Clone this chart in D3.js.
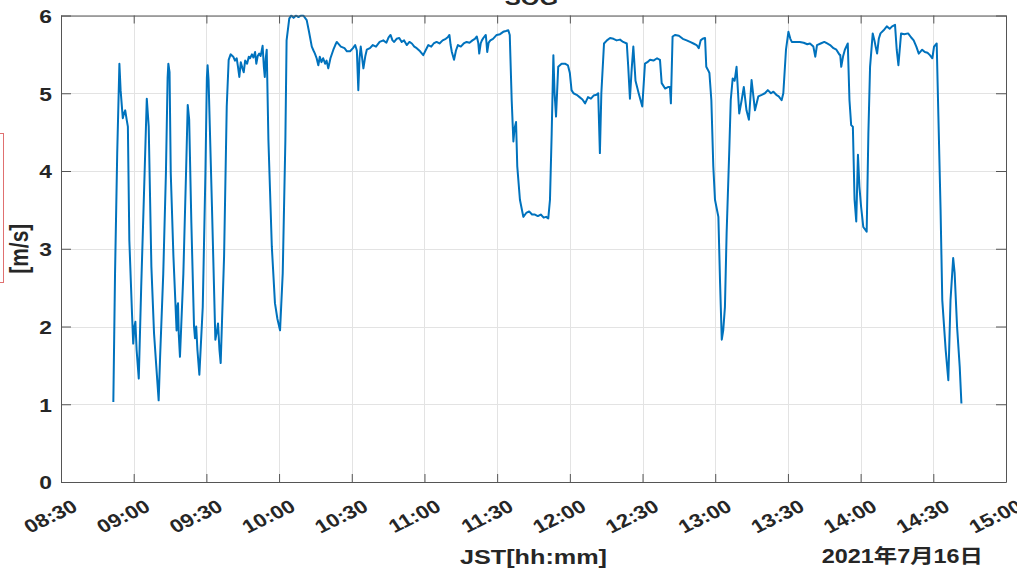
<!DOCTYPE html>
<html>
<head>
<meta charset="utf-8">
<script src="https://cdn.jsdelivr.net/npm/d3@7"></script>
<style>
  html, body { margin: 0; padding: 0; background: #fff; }
  svg { display: block; }
  text { font-family: "Liberation Sans", Arial, sans-serif; font-weight: bold; fill: #262626; }
</style>
</head>
<body>
<svg id="chart" width="1017" height="572"></svg>
<script>
// ---- data (minutes after 08:30 JST, SOG in m/s) ----
const startTime = "2021-07-16T08:30:00";
const endTime = "2021-07-16T15:00:00";
const tMin = [
  21.6,22.3,23.2,24.1,24.6,25.5,26.0,26.5,27.1,27.6,28.2,29.3,29.8,30.3,30.7,31.2,32.1,33.1,34.5,35.4,
  36.2,37.3,38.4,39.3,40.3,40.9,42.2,43.3,44.0,44.3,44.8,45.3,46.4,47.7,48.0,48.3,48.6,49.1,50.5,51.6,
  52.3,52.9,53.8,54.9,55.3,55.8,56.3,57.1,58.5,59.6,60.2,60.5,60.9,62.3,63.7,64.4,64.8,65.4,65.9,67.3,
  68.4,69.2,70.0,71.1,71.8,72.5,73.0,73.6,74.2,74.8,75.4,76.0,76.8,77.5,78.0,78.8,79.4,80.1,80.6,81.2,
  81.8,82.4,83.2,83.7,84.1,84.5,84.9,85.6,87.0,88.3,89.3,90.4,91.5,92.6,93.1,94.2,95.0,96.0,97.0,98.0,
  99.0,100.0,101.4,102.3,103.5,104.2,104.8,105.5,106.2,106.8,107.5,108.2,109.0,109.6,110.3,111.2,112.4,113.2,113.8,115.5,
  117.0,118.0,119.3,120.5,121.4,122.1,122.7,123.2,123.7,124.8,125.6,126.2,127.5,128.7,130.0,131.5,133.0,134.3,135.2,136.0,
  136.8,137.5,138.5,139.6,140.6,141.6,142.7,143.8,144.8,145.8,146.8,148.2,149.5,150.6,151.6,152.8,153.8,155.0,156.2,157.5,
  158.8,159.6,160.3,160.8,161.3,162.2,163.0,163.8,165.0,166.2,167.4,168.6,169.8,170.8,171.6,172.2,172.6,173.2,173.7,174.5,
  175.3,175.6,175.9,176.5,177.2,178.3,179.8,181.2,182.5,183.6,184.6,185.2,186.0,186.7,187.2,187.8,188.3,189.4,190.8,192.0,
  193.2,194.4,195.6,196.8,198.0,199.2,200.2,201.1,201.8,202.5,203.2,203.7,204.3,205.2,206.6,208.0,209.2,210.0,210.7,211.5,
  212.8,214.0,215.2,216.3,217.5,218.7,219.8,221.0,221.7,222.4,223.0,224.1,225.3,226.6,228.0,229.3,230.7,232.0,233.5,234.1,
  234.8,235.5,236.2,237.1,238.4,239.9,241.0,242.0,243.1,244.5,246.0,247.2,247.9,249.3,250.5,251.3,251.7,252.4,253.5,255.0,
  256.6,258.2,259.6,261.0,262.3,263.2,264.0,264.8,265.8,266.3,267.0,267.6,268.4,269.2,269.9,271.3,272.0,272.7,273.3,274.0,
  274.7,275.8,276.4,277.2,278.0,278.8,279.9,280.9,281.8,282.9,283.9,285.0,286.4,287.8,289.2,290.5,291.7,293.0,294.0,295.2,
  296.2,297.4,298.1,299.2,300.2,301.0,301.6,303.2,304.9,306.5,308.0,309.1,310.5,311.3,312.0,313.5,315.0,316.2,317.4,318.8,
  320.0,321.2,321.6,322.0,322.8,323.5,324.7,325.4,326.1,326.8,327.5,328.2,328.9,329.5,330.2,331.1,332.5,333.2,333.9,335.0,
  335.7,336.2,336.8,337.5,338.2,339.5,340.8,342.0,343.0,344.2,344.9,345.6,346.7,348.0,349.6,350.8,351.9,353.0,354.0,355.4,
  356.5,357.6,358.6,359.6,360.3,361.4,362.1,363.0,363.7,365.1,366.2,367.1,368.2,368.8,369.8,370.9,371.6
];
const sog = [
  1.03,2.68,4.23,5.38,5.04,4.68,4.74,4.78,4.66,4.57,3.11,2.17,1.78,2.00,2.06,1.70,1.33,2.51,3.97,4.93,
  4.57,2.77,1.91,1.50,1.05,1.61,2.68,3.97,5.20,5.38,5.27,3.97,2.90,1.95,2.25,2.30,1.90,1.61,2.68,3.97,
  4.85,4.66,3.33,2.00,1.85,2.00,1.70,1.38,2.25,3.97,5.20,5.36,5.17,3.54,1.83,1.95,2.04,1.70,1.53,2.90,
  4.83,5.43,5.50,5.47,5.42,5.45,5.35,5.21,5.40,5.33,5.27,5.42,5.38,5.47,5.45,5.50,5.46,5.53,5.38,5.48,
  5.51,5.48,5.61,5.35,5.21,5.45,5.56,4.40,3.03,2.30,2.10,1.95,2.68,4.40,5.68,5.96,6.00,5.97,6.00,5.98,
  6.00,6.00,5.94,5.80,5.60,5.55,5.51,5.45,5.36,5.47,5.40,5.45,5.38,5.42,5.32,5.45,5.56,5.62,5.66,5.60,
  5.58,5.54,5.54,5.58,5.62,5.55,5.04,5.45,5.60,5.32,5.48,5.56,5.58,5.62,5.60,5.66,5.68,5.65,5.72,5.75,
  5.68,5.66,5.70,5.71,5.66,5.68,5.62,5.66,5.64,5.60,5.58,5.54,5.49,5.56,5.62,5.60,5.64,5.66,5.64,5.68,
  5.70,5.72,5.75,5.62,5.53,5.43,5.55,5.62,5.60,5.64,5.66,5.65,5.68,5.70,5.73,5.65,5.51,5.64,5.68,5.72,
  5.75,5.65,5.53,5.65,5.68,5.70,5.75,5.76,5.79,5.80,5.81,5.75,4.91,4.38,4.55,4.63,4.06,3.63,3.41,3.46,
  3.48,3.44,3.44,3.42,3.44,3.40,3.41,3.39,3.63,4.48,5.49,5.00,4.70,5.34,5.38,5.38,5.36,5.26,5.04,5.00,
  4.98,4.95,4.92,4.87,4.95,4.93,4.97,4.98,5.00,4.23,5.00,5.64,5.68,5.71,5.70,5.68,5.69,5.66,5.64,5.34,
  4.93,5.30,5.60,5.16,5.00,4.83,5.38,5.40,5.43,5.42,5.45,5.43,5.13,5.06,5.08,5.08,4.87,5.73,5.75,5.74,
  5.70,5.68,5.66,5.64,5.62,5.58,5.68,5.70,5.71,5.34,5.30,5.26,4.91,4.06,3.63,3.41,2.56,1.83,1.95,2.25,
  3.20,4.27,4.91,5.19,5.16,5.34,4.74,4.91,5.08,4.78,4.66,5.17,4.78,4.96,4.98,5.00,5.04,5.00,5.02,4.98,
  4.96,4.91,5.00,5.56,5.79,5.70,5.66,5.66,5.66,5.65,5.63,5.64,5.60,5.47,5.62,5.64,5.66,5.64,5.62,5.58,
  5.56,5.50,5.49,5.34,5.48,5.56,5.64,4.91,4.59,4.57,3.63,3.35,4.21,3.80,3.54,3.28,3.22,4.48,5.34,5.77,
  5.68,5.60,5.51,5.70,5.77,5.81,5.86,5.83,5.86,5.88,5.56,5.36,5.77,5.76,5.77,5.72,5.68,5.60,5.51,5.56,
  5.53,5.52,5.49,5.45,5.60,5.64,4.70,3.50,2.34,1.70,1.31,2.34,2.88,2.69,2.00,1.48,1.01
];
const yTicks = [0, 1, 2, 3, 4, 5, 6];
const titleText = "SOG";
const xLabelText = "JST[hh:mm]";
const yLabelText = "[m/s]";
const dateText = "2021年7月16日";

// ---- layout ----
const L = 61, R = 1006, T = 15.5, B = 482;
const SX = 1.2; // horizontal stretch of text in the reference
const svg = d3.select("#chart");

const t0 = new Date(startTime), t1 = new Date(endTime);
const x = d3.scaleTime().domain([t0, t1]).range([L, R]);
const y = d3.scaleLinear().domain([0, 6]).range([B, T]);
const data = tMin.map((m, i) => ({ t: new Date(t0.getTime() + m * 60000), v: sog[i] }));
const xTicks = d3.timeMinute.every(30).range(t0, new Date(t1.getTime() + 1));

// grid
const grid = svg.append("g").attr("stroke", "#e3e3e3").attr("stroke-width", 1);
grid.selectAll("line.v").data(xTicks).join("line")
  .attr("x1", d => Math.round(x(d)) + 0.5).attr("x2", d => Math.round(x(d)) + 0.5)
  .attr("y1", T).attr("y2", B);
grid.selectAll("line.h").data(yTicks).join("line")
  .attr("y1", d => Math.round(y(d)) + 0.5).attr("y2", d => Math.round(y(d)) + 0.5)
  .attr("x1", L).attr("x2", R);

// data line
svg.append("clipPath").attr("id", "clip").append("rect")
  .attr("x", L).attr("y", T - 1).attr("width", R - L).attr("height", B - T + 1);
svg.append("path").datum(data)
  .attr("clip-path", "url(#clip)")
  .attr("fill", "none").attr("stroke", "#0072BD").attr("stroke-width", 2)
  .attr("stroke-linejoin", "round")
  .attr("d", d3.line().x(d => x(d.t)).y(d => y(d.v)));

// axes
const axisColor = "#555";
function styleAxis(g) {
  g.select(".domain").attr("stroke", axisColor);
  g.selectAll(".tick line").attr("stroke", axisColor);
}
const fmt = d3.timeFormat("%H:%M");
const gx = svg.append("g").attr("transform", `translate(0,${B})`)
  .call(d3.axisBottom(x).tickValues(xTicks).tickFormat(fmt).tickSize(-8).tickSizeOuter(0));
styleAxis(gx);
gx.selectAll(".tick text")
  .attr("y", null).attr("dy", null)
  .attr("text-anchor", "end")
  .attr("font-size", 18.5)
  .attr("transform", `translate(17.4,28) scale(${SX},1) rotate(-30)`)
  .attr("fill", "#262626");

const gt = svg.append("g").attr("transform", `translate(0,${T})`)
  .call(d3.axisTop(x).tickValues(xTicks).tickFormat("").tickSize(-8).tickSizeOuter(0));
styleAxis(gt);

const gy = svg.append("g").attr("transform", `translate(${L},0)`)
  .call(d3.axisLeft(y).tickValues(yTicks).tickFormat(d3.format("d")).tickSize(-10).tickSizeOuter(0));
styleAxis(gy);
gy.selectAll(".tick text")
  .attr("x", null).attr("dy", null)
  .attr("text-anchor", "end")
  .attr("dominant-baseline", "central")
  .attr("font-size", 19)
  .attr("transform", `translate(-9,0) scale(${SX},1)`)
  .attr("fill", "#262626");

const gr = svg.append("g").attr("transform", `translate(${R},0)`)
  .call(d3.axisRight(y).tickValues(yTicks).tickFormat("").tickSize(-10).tickSizeOuter(0));
styleAxis(gr);

// titles / labels
svg.append("text").text(titleText)
  .attr("text-anchor", "middle").attr("font-size", 20)
  .attr("transform", `translate(${(L + R) / 2 - 2},5) scale(${SX},1)`);

svg.append("text").text(xLabelText)
  .attr("text-anchor", "middle").attr("font-size", 21)
  .attr("transform", `translate(${(L + R) / 2},564) scale(${SX},1)`);

svg.append("text").text(dateText)
  .attr("text-anchor", "end").attr("font-size", 19.5)
  .style("font-family", "'Liberation Sans', 'Noto Sans CJK JP', sans-serif")
  .attr("transform", `translate(983,563) scale(${SX},1)`);

svg.append("text").text(yLabelText)
  .attr("text-anchor", "middle").attr("font-size", 21)
  .attr("transform", `translate(28,${(T + B) / 2}) scale(${SX},1) rotate(-90)`);

// red selection box at left edge (partially off-canvas)
svg.append("rect")
  .attr("x", -20).attr("y", 133.5).attr("width", 23.5).attr("height", 149)
  .attr("fill", "none").attr("stroke", "#e07070").attr("stroke-width", 1);
</script>
</body>
</html>
